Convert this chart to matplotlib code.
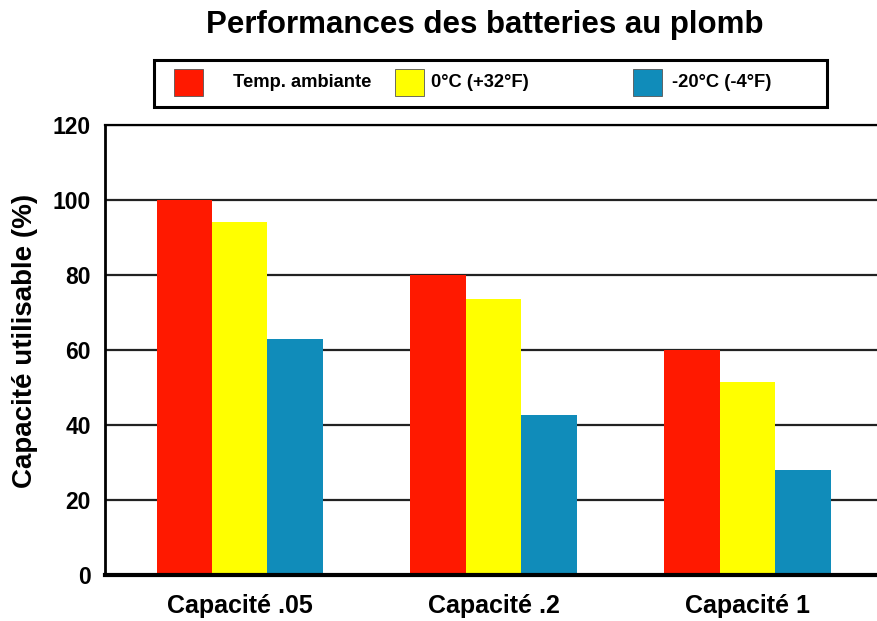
import matplotlib
matplotlib.use("Agg")
import matplotlib.pyplot as plt
from matplotlib.patches import Rectangle
import numpy as np

categories = ["Capacité .05", "Capacité .2", "Capacité 1"]
series_names = ["Temp. ambiante", "0°C (+32°F)", "-20°C (-4°F)"]
temp_ambiante = [100, 80, 60]
zero_c = [94, 73.5, 51.5]
minus_20c = [63, 42.5, 28]
series_values = [temp_ambiante, zero_c, minus_20c]
colors = ["#FF1900", "#FFFF00", "#108CBA"]
yticks = [0, 20, 40, 60, 80, 100, 120]

plt.rcParams['font.family'] = ['Liberation Sans', 'DejaVu Sans']
plt.rcParams['font.weight'] = 'bold'

W, H = 877, 621
fig = plt.figure(figsize=(W / 100, H / 100), dpi=100)
ax = fig.add_axes([105 / W, (H - 574.5) / H, 1 - 105 / W, (574.5 - 125) / H])

x = np.arange(len(categories))
bw = 0.218
for i, (vals, c) in enumerate(zip(series_values, colors)):
    ax.bar(x + (i - 1) * bw, vals, width=bw, color=c, edgecolor='none', zorder=3)

ax.set_xlim(-0.53, 2.51)
ax.set_ylim(0, 120)
ax.set_yticks(yticks)
ax.set_yticklabels([str(v) for v in yticks], fontsize=16.5, fontweight='bold')
ax.set_xticks(x)
ax.set_xticklabels(categories, fontsize=18, fontweight='bold')
ax.tick_params(axis='y', length=0, pad=10)
ax.tick_params(axis='x', length=0, pad=14)
ax.yaxis.grid(True, color='#222222', linewidth=1.6, zorder=1)
ax.set_axisbelow(True)
ax.spines['right'].set_visible(False)
ax.spines['top'].set_linewidth(1.6)
ax.spines['left'].set_linewidth(2.0)
ax.spines['bottom'].set_linewidth(3.0)
ax.spines['bottom'].set_zorder(4)

fig.text(25 / W, 1 - 341 / H, "Capacité utilisable (%)", rotation=90,
         ha='center', va='center', fontsize=20, fontweight='bold')

fig.text(485 / W, 1 - 33 / H, "Performances des batteries au plomb",
         ha='center', va='baseline', fontsize=22.5, fontweight='bold')

# legend box
fig.patches.append(Rectangle((154 / W, 1 - 107 / H), (827 - 154) / W, (107 - 60) / H,
                             transform=fig.transFigure, facecolor='white',
                             edgecolor='black', linewidth=2.2))
patch_x = [174, 395, 633]
text_x = [233, 431, 672]
for px, tx, name, c in zip(patch_x, text_x, series_names, colors):
    fig.patches.append(Rectangle((px / W, 1 - 96 / H), 29 / W, 27 / H,
                                 transform=fig.transFigure, facecolor=c,
                                 edgecolor='#555555', linewidth=0.6))
    fig.text(tx / W, 1 - 82.5 / H, name, ha='left', va='center',
             fontsize=13.2, fontweight='bold')

fig.savefig("out.png", dpi=100)
